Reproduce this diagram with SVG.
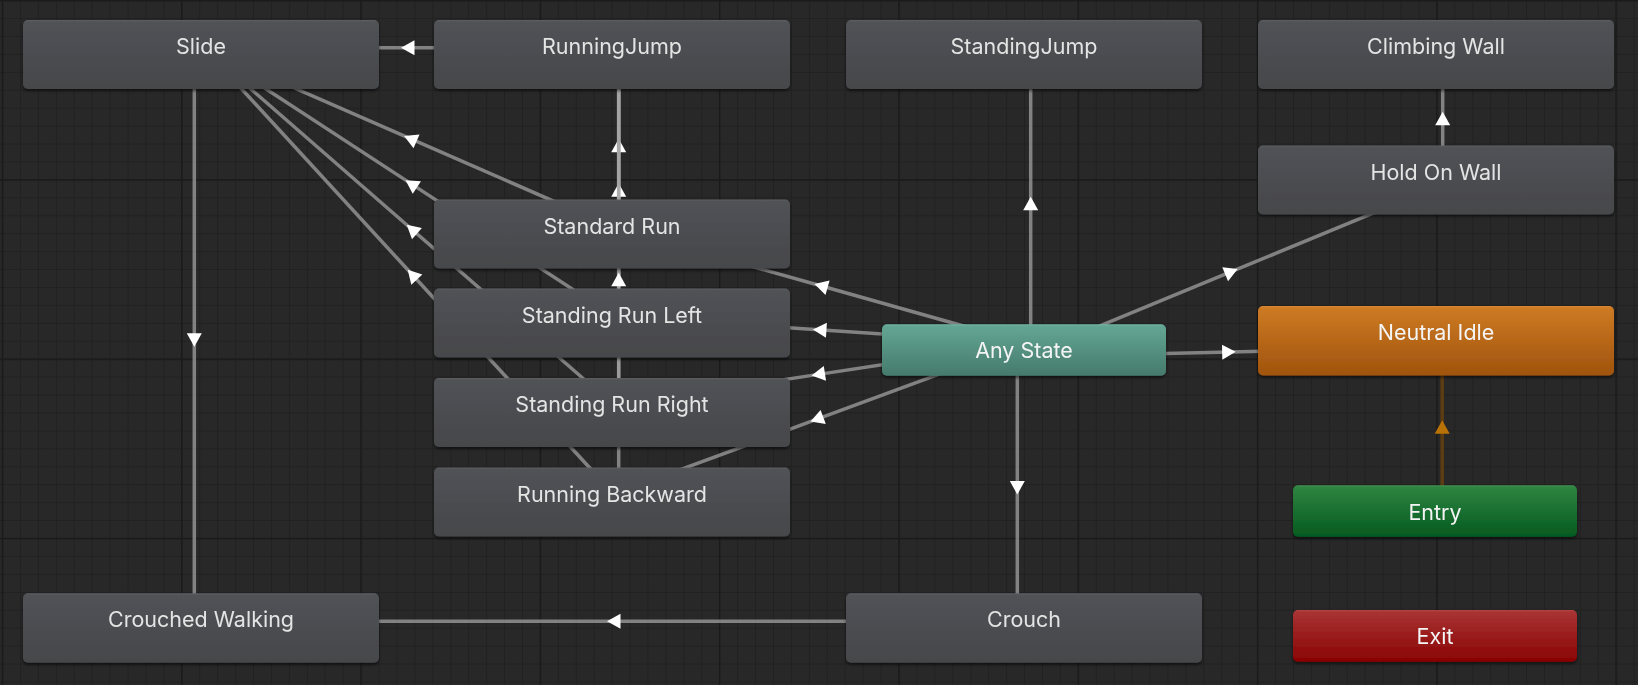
<svg xmlns="http://www.w3.org/2000/svg" width="1638" height="685" viewBox="0 0 1638 685">
<style>
.lbl{font-family:Inter,"Noto Sans","Liberation Sans",sans-serif;font-size:21.5px;fill:#e4e4e4;text-anchor:middle}
.lblc{fill:#f4f4f4}
.tr{fill:none;stroke:rgba(165,165,165,0.72);stroke-width:3.5;marker-mid:url(#arr)}
.tro{fill:none;stroke:#5e3d12;stroke-width:3.5;marker-mid:url(#arro)}
.node{filter:url(#sh)}
</style>
<defs>
<pattern id="gminor" x="2" y="0.1" width="17.93" height="17.93" patternUnits="userSpaceOnUse">
<path d="M0,0.5H17.93M0.5,0V17.93" stroke="#212121" stroke-width="1" fill="none"/>
</pattern>
<pattern id="gmajor" x="1.75" y="-0.15" width="179.3" height="179.3" patternUnits="userSpaceOnUse">
<path d="M0,0.75H179.3M0.75,0V179.3" stroke="#1a1a1a" stroke-width="1.5" fill="none"/>
</pattern>
<marker id="arr" viewBox="-9 -8 16 16" markerWidth="16" markerHeight="16" refX="0" refY="0" orient="auto" markerUnits="userSpaceOnUse">
<path d="M5.5,0L-8,-7.5L-8,7.5Z" fill="#ffffff"/>
</marker>
<marker id="arro" viewBox="-9 -8 16 16" markerWidth="16" markerHeight="16" refX="0" refY="0" orient="auto" markerUnits="userSpaceOnUse">
<path d="M5.5,0L-8,-7.5L-8,7.5Z" fill="#b87206"/>
</marker>
<linearGradient id="gGray" x1="0" y1="0" x2="0" y2="1">
<stop offset="0" stop-color="#5d5f63"/>
<stop offset="0.03" stop-color="#505256"/>
<stop offset="1" stop-color="#45474b"/>
</linearGradient>
<linearGradient id="gTeal" x1="0" y1="0" x2="0" y2="1">
<stop offset="0" stop-color="#72b3a1"/>
<stop offset="0.04" stop-color="#63a593"/>
<stop offset="1" stop-color="#457a6c"/>
</linearGradient>
<linearGradient id="gOrange" x1="0" y1="0" x2="0" y2="1">
<stop offset="0" stop-color="#da8a34"/>
<stop offset="0.03" stop-color="#cd7a23"/>
<stop offset="1" stop-color="#a0530d"/>
</linearGradient>
<linearGradient id="gGreen" x1="0" y1="0" x2="0" y2="1">
<stop offset="0" stop-color="#3f9450"/>
<stop offset="0.04" stop-color="#2e8440"/>
<stop offset="1" stop-color="#045a1f"/>
</linearGradient>
<linearGradient id="gRed" x1="0" y1="0" x2="0" y2="1">
<stop offset="0" stop-color="#b84444"/>
<stop offset="0.04" stop-color="#a83333"/>
<stop offset="1" stop-color="#8a0303"/>
</linearGradient>
<filter id="sh" x="-5%" y="-20%" width="110%" height="150%">
<feDropShadow dx="0" dy="2" stdDeviation="1.8" flood-color="#000000" flood-opacity="0.55"/>
</filter>
</defs>

<rect x="0" y="0" width="1638" height="685" fill="#282828"/>
<rect x="0" y="0" width="1638" height="685" fill="url(#gminor)"/>
<rect x="0" y="0" width="1638" height="685" fill="url(#gmajor)"/>

<g id="connectors">
<polyline class="tr" points="612,47.8 406.5,47.8 201,47.8"/>
<polyline class="tr" points="194.3,54.5 194.3,341.25 194.3,628"/>
<polyline class="tr" points="1024,621.3 612.5,621.3 201,621.3"/>
<polyline class="tr" points="1017.3,350 1017.3,489 1017.3,628"/>
<polyline class="tr" points="1030.7,350 1030.7,202.25 1030.7,54.5"/>
<polyline class="tr" points="1442.7,180 1442.7,117.25 1442.7,54.5"/>
<polyline class="tr" points="1026.56,356.19 1232.56,271.19 1438.56,186.19"/>
<polyline class="tr" points="1024.15,356.7 1230.15,351.95 1436.15,347.2"/>
<polyline class="tr" points="1025.82,343.55 819.82,285.55 613.82,227.55"/>
<polyline class="tr" points="1024.44,343.31 818.44,329.81 612.44,316.31"/>
<polyline class="tr" points="1023,343.38 817,374.63 611,405.88"/>
<polyline class="tr" points="1021.68,343.71 815.68,419.71 609.68,495.71"/>
<polyline class="tr" points="614.68,227.86 409.18,138.11 203.68,48.36"/>
<polyline class="tr" points="615.66,317.39 410.16,183.14 204.66,48.89"/>
<polyline class="tr" points="616.4,407.45 410.9,228.45 205.4,49.45"/>
<polyline class="tr" points="616.93,497.47 411.43,273.75 205.93,50.03"/>
<polyline class="tr" points="618.7,234 618.7,144.25 618.7,54.5"/>
<polyline class="tr" points="618.7,323 618.7,188.75 618.7,54.5"/>
<polyline class="tr" points="618.7,412.5 618.7,233.5 618.7,54.5"/>
<polyline class="tr" points="618.7,502 618.7,278.25 618.7,54.5"/>
<polyline class="tro" points="1442.2,511 1442.2,425.75 1442.2,340.5"/>
</g>

<g id="node-slide" class="node"><rect x="23" y="20" width="356" height="69" rx="5" fill="url(#gGray)"/><text class="lbl" x="201" y="54">Slide</text></g>
<g id="node-runningjump" class="node"><rect x="434" y="20" width="356" height="69" rx="5" fill="url(#gGray)"/><text class="lbl" x="612" y="54">RunningJump</text></g>
<g id="node-standingjump" class="node"><rect x="846" y="20" width="356" height="69" rx="5" fill="url(#gGray)"/><text class="lbl" x="1024" y="54">StandingJump</text></g>
<g id="node-climbingwall" class="node"><rect x="1258" y="20" width="356" height="69" rx="5" fill="url(#gGray)"/><text class="lbl" x="1436" y="54">Climbing Wall</text></g>
<g id="node-holdonwall" class="node"><rect x="1258" y="145.5" width="356" height="69" rx="5" fill="url(#gGray)"/><text class="lbl" x="1436" y="179.5">Hold On Wall</text></g>
<g id="node-standardrun" class="node"><rect x="434" y="199.5" width="356" height="69" rx="5" fill="url(#gGray)"/><text class="lbl" x="612" y="233.5">Standard Run</text></g>
<g id="node-standingrunleft" class="node"><rect x="434" y="288.5" width="356" height="69" rx="5" fill="url(#gGray)"/><text class="lbl" x="612" y="322.5">Standing Run Left</text></g>
<g id="node-standingrunright" class="node"><rect x="434" y="378" width="356" height="69" rx="5" fill="url(#gGray)"/><text class="lbl" x="612" y="412">Standing Run Right</text></g>
<g id="node-runningbackward" class="node"><rect x="434" y="467.5" width="356" height="69" rx="5" fill="url(#gGray)"/><text class="lbl" x="612" y="501.5">Running Backward</text></g>
<g id="node-anystate" class="node"><rect x="882" y="324.3" width="284" height="51.4" rx="5" fill="url(#gTeal)"/><text class="lbl lblc" x="1024" y="358.3">Any State</text></g>
<g id="node-neutralidle" class="node"><rect x="1258" y="306" width="356" height="69.5" rx="5" fill="url(#gOrange)"/><text class="lbl lblc" x="1436" y="340">Neutral Idle</text></g>
<g id="node-entry" class="node"><rect x="1293" y="485.3" width="284" height="51.4" rx="5" fill="url(#gGreen)"/><text class="lbl lblc" x="1435" y="520">Entry</text></g>
<g id="node-exit" class="node"><rect x="1293" y="610" width="284" height="51.7" rx="5" fill="url(#gRed)"/><text class="lbl lblc" x="1435" y="644">Exit</text></g>
<g id="node-crouchedwalking" class="node"><rect x="23" y="593.3" width="356" height="69.4" rx="5" fill="url(#gGray)"/><text class="lbl" x="201" y="627.3">Crouched Walking</text></g>
<g id="node-crouch" class="node"><rect x="846" y="593.3" width="356" height="69.4" rx="5" fill="url(#gGray)"/><text class="lbl" x="1024" y="627.3">Crouch</text></g>
</svg>
